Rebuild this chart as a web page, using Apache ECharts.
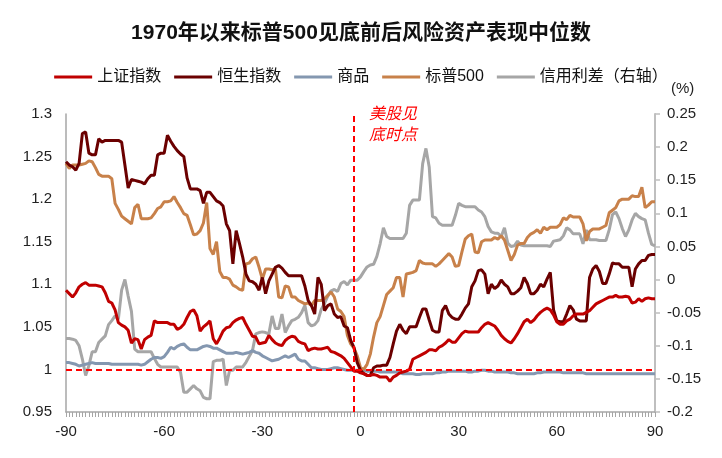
<!DOCTYPE html>
<html>
<head>
<meta charset="utf-8">
<script src="https://cdn.jsdelivr.net/npm/echarts@6/dist/echarts.min.js"></script>
<style>
  html, body { margin: 0; padding: 0; background: #fff; }
  #chart { width: 722px; height: 458px; }
</style>
</head>
<body>
<div id="chart"></div>
<script>
// 横轴：美股见底前后交易日
var days = [];
for (let d = -90; d <= 90; d++) days.push(String(d));

var seriesNames = ['上证指数', '恒生指数', '商品', '标普500', '信用利差（右轴）'];

// 上证指数
var shData = [
    1.093, 1.089, 1.085, 1.090, 1.097, 1.100, 1.102, 1.099, 1.099, 1.099,
    1.098, 1.097, 1.090, 1.080, 1.078, 1.070, 1.055, 1.052, 1.050, 1.046,
    1.031, 1.036, 1.035, 1.024, 1.035, 1.038, 1.040, 1.057, 1.055, 1.055,
    1.055, 1.055, 1.053, 1.053, 1.047, 1.049, 1.053, 1.061, 1.068, 1.070,
    1.063, 1.045, 1.050, 1.053, 1.057, 1.036, 1.030, 1.037, 1.045, 1.049,
    1.050, 1.055, 1.058, 1.060, 1.061, 1.053, 1.046, 1.039, 1.038, 1.030,
    1.031, 1.032, 1.040, 1.035, 1.031, 1.029, 1.028, 1.034, 1.037, 1.039,
    1.038, 1.033, 1.031, 1.030, 1.022, 1.024, 1.025, 1.024, 1.024, 1.025,
    1.026, 1.021, 1.020, 1.018, 1.016, 1.013, 1.008, 1.003, 0.998, 0.998,
    0.996, 0.995, 0.993, 0.993, 0.994, 0.993, 0.991, 0.991, 0.991, 0.986,
    0.991, 0.993, 0.996, 0.997, 0.998, 1.000, 1.012, 1.014, 1.016, 1.018,
    1.020, 1.023, 1.023, 1.022, 1.026, 1.028, 1.031, 1.035, 1.032, 1.032,
    1.037, 1.042, 1.045, 1.044, 1.044, 1.044, 1.044, 1.049, 1.053, 1.055,
    1.053, 1.051, 1.046, 1.040, 1.036, 1.033, 1.031, 1.036, 1.042, 1.049,
    1.056, 1.059, 1.055, 1.058, 1.063, 1.067, 1.070, 1.072, 1.070, 1.064,
    1.056, 1.053, 1.053, 1.057, 1.059, 1.063, 1.065, 1.065, 1.065, 1.067,
    1.069, 1.073, 1.077, 1.079, 1.081, 1.083, 1.085, 1.085, 1.087, 1.085,
    1.085, 1.086, 1.085, 1.078, 1.079, 1.083, 1.080, 1.083, 1.084, 1.083,
    1.083
];

// 恒生指数
var hsData = [
    1.244, 1.240, 1.238, 1.234, 1.242, 1.277, 1.279, 1.254, 1.252, 1.252,
    1.271, 1.267, 1.269, 1.269, 1.269, 1.269, 1.269, 1.267, 1.240, 1.213,
    1.223, 1.222, 1.221, 1.220, 1.218, 1.224, 1.228, 1.228, 1.252, 1.254,
    1.254, 1.275, 1.268, 1.262, 1.257, 1.253, 1.250, 1.225, 1.212, 1.212,
    1.212, 1.210, 1.195, 1.208, 1.208, 1.203, 1.198, 1.196, 1.192, 1.171,
    1.163, 1.124, 1.163, 1.148, 1.132, 1.112, 1.104, 1.103, 1.100, 1.093,
    1.108, 1.089, 1.104, 1.112, 1.120, 1.122, 1.119, 1.114, 1.110, 1.110,
    1.110, 1.110, 1.110, 1.098, 1.081, 1.075, 1.065, 1.108, 1.100, 1.069,
    1.075, 1.077, 1.065, 1.061, 1.062, 1.051, 1.049, 1.034, 1.026, 1.008,
    0.999, 0.995, 0.993, 0.993, 1.002, 1.004, 1.004, 1.005, 1.005, 1.014,
    1.030, 1.045, 1.053, 1.046, 1.042, 1.050, 1.050, 1.050, 1.061, 1.071,
    1.071, 1.058, 1.046, 1.044, 1.044, 1.069, 1.075, 1.065, 1.061, 1.059,
    1.059, 1.065, 1.072, 1.077, 1.097, 1.104, 1.116, 1.117, 1.112, 1.089,
    1.100, 1.095, 1.098, 1.105, 1.100, 1.097, 1.089, 1.089, 1.092, 1.096,
    1.108, 1.101, 1.089, 1.089, 1.093, 1.100, 1.097, 1.106, 1.114, 1.070,
    1.057, 1.056, 1.056, 1.065, 1.075, 1.070, 1.059, 1.057, 1.057, 1.057,
    1.108, 1.118, 1.122, 1.115, 1.101, 1.101, 1.112, 1.125, 1.124, 1.124,
    1.120, 1.120, 1.120, 1.097, 1.118, 1.124, 1.128, 1.128, 1.134, 1.135,
    1.135
];

// 商品
var cmData = [
    1.008, 1.008, 1.007, 1.006, 1.004, 1.005, 1.006, 1.007, 1.008, 1.007,
    1.007, 1.007, 1.007, 1.007, 1.006, 1.006, 1.006, 1.006, 1.006, 1.006,
    1.006, 1.006, 1.006, 1.005, 1.006, 1.009, 1.012, 1.014, 1.014, 1.013,
    1.015, 1.020, 1.026, 1.024, 1.027, 1.029, 1.030, 1.026, 1.023, 1.023,
    1.023, 1.025, 1.027, 1.028, 1.027, 1.025, 1.025, 1.023, 1.021, 1.019,
    1.019, 1.019, 1.020, 1.019, 1.018, 1.019, 1.020, 1.022, 1.020, 1.019,
    1.016, 1.014, 1.012, 1.010, 1.011, 1.012, 1.014, 1.016, 1.014, 1.016,
    1.018, 1.012, 1.010, 1.010, 1.006, 1.002, 1.002, 1.001, 1.000, 1.000,
    1.000, 1.001, 1.002, 1.002, 1.001, 1.000, 0.999, 0.999, 0.999, 0.999,
    0.999, 0.999, 0.998, 0.998, 0.998, 0.998, 0.997, 0.997, 0.997, 0.997,
    0.997, 0.997, 0.996, 0.995, 0.995, 0.995, 0.995, 0.994, 0.994, 0.995,
    0.995, 0.995, 0.995, 0.996, 0.996, 0.997, 0.997, 0.998, 0.998, 0.998,
    0.998, 0.998, 0.998, 0.997, 0.997, 0.998, 0.998, 0.999, 0.999, 0.998,
    0.998, 0.997, 0.997, 0.997, 0.997, 0.997, 0.996, 0.996, 0.995, 0.995,
    0.995, 0.995, 0.995, 0.995, 0.996, 0.996, 0.997, 0.997, 0.997, 0.997,
    0.997, 0.997, 0.996, 0.996, 0.996, 0.996, 0.996, 0.996, 0.996, 0.995,
    0.995, 0.995, 0.995, 0.995, 0.995, 0.995, 0.995, 0.995, 0.995, 0.995,
    0.995, 0.995, 0.995, 0.995, 0.995, 0.995, 0.995, 0.995, 0.995, 0.995,
    0.995
];

// 标普500
var spData = [
    1.242, 1.236, 1.240, 1.240, 1.240, 1.241, 1.242, 1.245, 1.244, 1.237,
    1.229, 1.227, 1.227, 1.227, 1.224, 1.195, 1.188, 1.180, 1.177, 1.174,
    1.171, 1.190, 1.194, 1.177, 1.177, 1.177, 1.178, 1.183, 1.189, 1.191,
    1.197, 1.197, 1.198, 1.203, 1.196, 1.190, 1.183, 1.181, 1.170, 1.158,
    1.159, 1.163, 1.172, 1.196, 1.142, 1.135, 1.150, 1.115, 1.108, 1.108,
    1.106, 1.099, 1.097, 1.094, 1.093, 1.124, 1.125, 1.130, 1.132, 1.120,
    1.106, 1.118, 1.118, 1.117, 1.118, 1.085, 1.084, 1.098, 1.097, 1.085,
    1.085, 1.081, 1.079, 1.077, 1.078, 1.075, 1.081, 1.081, 1.081, 1.083,
    1.087, 1.091, 1.085, 1.071, 1.068, 1.062, 1.040, 1.030, 1.025, 1.016,
    1.002, 1.000, 1.006, 1.018, 1.038, 1.055, 1.062, 1.075, 1.088, 1.092,
    1.096, 1.108, 1.108, 1.085, 1.112, 1.113, 1.114, 1.116, 1.128, 1.125,
    1.124, 1.124, 1.124, 1.121, 1.124, 1.128, 1.132, 1.136, 1.132, 1.121,
    1.122, 1.138, 1.153, 1.157, 1.159, 1.138, 1.137, 1.150, 1.152, 1.152,
    1.152, 1.155, 1.153, 1.157, 1.152, 1.140, 1.128, 1.135, 1.146, 1.148,
    1.148, 1.155, 1.159, 1.161, 1.164, 1.160, 1.167, 1.164, 1.167, 1.167,
    1.167, 1.170, 1.178, 1.176, 1.181, 1.179, 1.179, 1.179, 1.171, 1.151,
    1.162, 1.165, 1.165, 1.165, 1.167, 1.169, 1.184, 1.187, 1.190, 1.198,
    1.200, 1.200, 1.200, 1.204, 1.203, 1.203, 1.214, 1.190, 1.193, 1.197,
    1.197
];

// 信用利差（右轴，%）
var crData = [
    -0.089, -0.089, -0.090, -0.092, -0.100, -0.120, -0.145, -0.130, -0.109, -0.109,
    -0.095, -0.090, -0.085, -0.068, -0.062, -0.055, -0.060, -0.016, 0.000, -0.025,
    -0.048, -0.105, -0.109, -0.109, -0.109, -0.109, -0.109, -0.119, -0.128, -0.132,
    -0.132, -0.132, -0.132, -0.132, -0.132, -0.140, -0.170, -0.170, -0.165, -0.160,
    -0.165, -0.168, -0.178, -0.180, -0.180, -0.124, -0.122, -0.122, -0.120, -0.160,
    -0.137, -0.137, -0.132, -0.132, -0.132, -0.125, -0.116, -0.107, -0.082, -0.080,
    -0.079, -0.080, -0.082, -0.055, -0.074, -0.074, -0.052, -0.080, -0.070, -0.062,
    -0.060, -0.057, -0.050, -0.039, -0.065, -0.070, -0.068, -0.062, -0.045, -0.036,
    -0.025, -0.017, -0.015, -0.018, -0.006, -0.003, -0.008, -0.001, -0.001, -0.001,
    0.004, 0.012, 0.019, 0.022, 0.023, 0.035, 0.054, 0.078, 0.065, 0.062,
    0.062, 0.062, 0.062, 0.062, 0.070, 0.112, 0.120, 0.120, 0.120, 0.175,
    0.198, 0.170, 0.095, 0.093, 0.085, 0.082, 0.082, 0.082, 0.082, 0.097,
    0.115, 0.112, 0.110, 0.110, 0.110, 0.110, 0.105, 0.102, 0.095, 0.080,
    0.072, 0.070, 0.070, 0.065, 0.078, 0.055, 0.050, 0.051, 0.058, 0.052,
    0.051, 0.051, 0.051, 0.051, 0.051, 0.051, 0.051, 0.051, 0.050, 0.058,
    0.059, 0.060, 0.066, 0.078, 0.075, 0.069, 0.069, 0.069, 0.054, 0.075,
    0.060, 0.060, 0.060, 0.059, 0.059, 0.059, 0.075, 0.098, 0.102, 0.092,
    0.077, 0.065, 0.075, 0.090, 0.100, 0.095, 0.092, 0.090, 0.070, 0.053,
    0.051
];

var colors = ['#C00000', '#6B0000', '#8497B0', '#C8814A', '#A6A6A6'];
var fontFam = 'Arial, "Liberation Sans", "Noto Sans CJK SC", sans-serif';

var chart = echarts.init(document.getElementById('chart'));

function lineSeries(name, data, color, yIdx) {
    return {
        name: name,
        type: 'line',
        data: data,
        yAxisIndex: yIdx,
        symbol: 'none',
        smooth: false,
        lineStyle: { color: color, width: 3 },
        itemStyle: { color: color },
        animation: false
    };
}

var series = [
    lineSeries(seriesNames[4], crData, colors[4], 1),
    lineSeries(seriesNames[2], cmData, colors[2], 0),
    lineSeries(seriesNames[3], spData, colors[3], 0),
    lineSeries(seriesNames[1], hsData, colors[1], 0),
    lineSeries(seriesNames[0], shData, colors[0], 0)
];
// 美股见底时点 + 1 基准线
series[4].markLine = {
    silent: true,
    symbol: 'none',
    label: { show: false },
    lineStyle: { color: '#FF0000', type: [6, 4], width: 2 },
    data: [{ yAxis: 1 }, { xAxis: '-2' }]
};

var option = {
    backgroundColor: '#fff',
    animation: false,
    textStyle: { fontFamily: fontFam },
    title: {
        text: '1970年以来标普500见底前后风险资产表现中位数',
        left: 'center',
        top: 18,
        textStyle: { fontSize: 21, fontWeight: 'bold', color: '#111', fontFamily: fontFam }
    },
    legend: {
        data: seriesNames,
        top: 64,
        left: 'center',
        icon: 'rect',
        itemWidth: 38,
        itemHeight: 3,
        itemGap: 13,
        textStyle: { fontSize: 16, color: '#111', fontFamily: fontFam }
    },
    grid: { left: 66, right: 67, top: 114, bottom: 46 },
    xAxis: {
        type: 'category',
        data: days,
        boundaryGap: false,
        axisLine: { onZero: false, lineStyle: { color: '#A6A6A6', width: 1.5 } },
        axisTick: { interval: 0, length: 5, lineStyle: { color: '#A6A6A6' } },
        axisLabel: { interval: 29, fontSize: 15, color: '#222', margin: 12 },
        splitLine: { show: false }
    },
    yAxis: [
        {
            type: 'value',
            min: 0.95,
            max: 1.3,
            interval: 0.05,
            axisLine: { show: true, lineStyle: { color: '#A6A6A6', width: 1.5 } },
            axisTick: { show: false },
            axisLabel: {
                fontSize: 15, color: '#222', margin: 14,
                formatter: function (v) { return String(+v.toFixed(2)); }
            },
            splitLine: { show: false }
        },
        {
            type: 'value',
            min: -0.2,
            max: 0.25,
            interval: 0.05,
            position: 'right',
            axisLine: { show: true, lineStyle: { color: '#BFBFBF', width: 2 } },
            axisTick: { show: true, length: 5, lineStyle: { color: '#BFBFBF', width: 1.5 } },
            axisLabel: {
                fontSize: 15, color: '#222', margin: 12,
                formatter: function (v) { return String(+v.toFixed(2)); }
            },
            splitLine: { show: false }
        }
    ],
    graphic: [
        {
            type: 'text',
            left: 369,
            top: 104,
            style: {
                text: '美股见\n底时点',
                fill: '#FF0000',
                font: 'italic 16px ' + fontFam,
                lineHeight: 21
            }
        },
        {
            type: 'text',
            left: 671,
            top: 81,
            style: {
                text: '(%)',
                fill: '#222',
                font: '15px ' + fontFam
            }
        }
    ],
    series: series
};

chart.setOption(option);

window.addEventListener('resize', function () {
    chart.resize();
});
</script>
</body>
</html>
